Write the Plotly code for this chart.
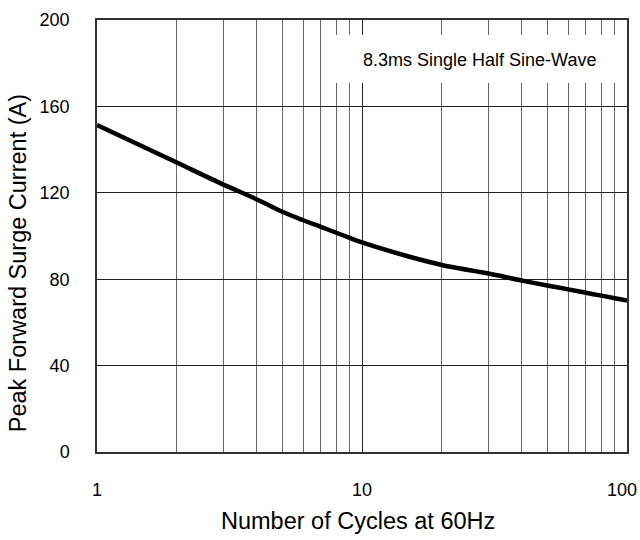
import plotly.graph_objects as go

cycles = [1, 2, 3, 4, 5, 6, 7, 8, 9, 10, 15, 20, 30, 40, 50, 60, 70, 80, 90, 100]
current = [151.4, 134, 123.8, 117, 111.2, 107.3, 104.2, 101.5, 99.1, 97, 90.5, 86.6,
           82.6, 79.4, 77.1, 75.3, 73.7, 72.4, 71.2, 70.1]

x_major = [1, 10, 100]
x_major_text = ["1", "10", "100\u00a0\u00a0"]
x_minor = [2, 3, 4, 5, 6, 7, 8, 9, 20, 30, 40, 50, 60, 70, 80, 90]
y_ticks = [0, 40, 80, 120, 160, 200]

x_title = "Number of Cycles at 60Hz"
y_title = "Peak Forward Surge Current (A)"
note = "8.3ms Single Half Sine-Wave"

font_family = "Liberation Sans, Arial, sans-serif"

fig = go.Figure()
fig.add_trace(go.Scatter(x=cycles, y=current, mode="lines",
                         line=dict(color="black", width=4.5, shape="spline", smoothing=0.8),
                         hoverinfo="skip", showlegend=False))

fig.update_layout(
    width=640, height=540,
    margin=dict(l=97, r=13, t=20, b=88),
    paper_bgcolor="white", plot_bgcolor="white",
    xaxis=dict(type="log", range=[0, 2], tickvals=x_major, ticktext=x_major_text,
               showgrid=True, gridcolor="#222", gridwidth=1,
               minor=dict(tickvals=x_minor, showgrid=True, gridcolor="#666", gridwidth=1),
               ticks="", ticklabelstandoff=21, ticklabeloverflow="allow",
               automargin=False,
               tickfont=dict(family=font_family, size=18, color="black"),
               showline=True, linecolor="#333", linewidth=1.5, mirror=True,
               zeroline=False, fixedrange=True),
    yaxis=dict(range=[0, 200], tickvals=y_ticks,
               showgrid=True, gridcolor="#222", gridwidth=1,
               ticks="", ticklabelstandoff=22, automargin=False,
               tickfont=dict(family=font_family, size=18, color="black"),
               showline=True, linecolor="#333", linewidth=1.5, mirror=True,
               zeroline=False, fixedrange=True),
    shapes=[dict(type="rect", xref="paper", yref="paper",
                 x0=0.445, x1=0.997, y0=0.854, y1=0.965,
                 fillcolor="white", line=dict(width=0), layer="above")],
    annotations=[
        dict(text=note, xref="paper", yref="paper", x=0.7226, y=0.907,
             showarrow=False, font=dict(family=font_family, size=18, color="black"),
             xanchor="center", yanchor="middle"),
        dict(text=x_title, xref="paper", yref="paper", x=0.4925, y=-0.16,
             showarrow=False, font=dict(family=font_family, size=23.5, color="black"),
             xanchor="center", yanchor="middle"),
        dict(text=y_title, xref="paper", yref="paper", x=-0.149, y=0.437,
             showarrow=False, textangle=-90,
             font=dict(family=font_family, size=23.5, color="black"),
             xanchor="center", yanchor="middle"),
    ],
)

fig.write_html("out.html", config={"displayModeBar": False},
               post_script="document.body.style.margin='0';document.body.style.overflow='hidden';")
